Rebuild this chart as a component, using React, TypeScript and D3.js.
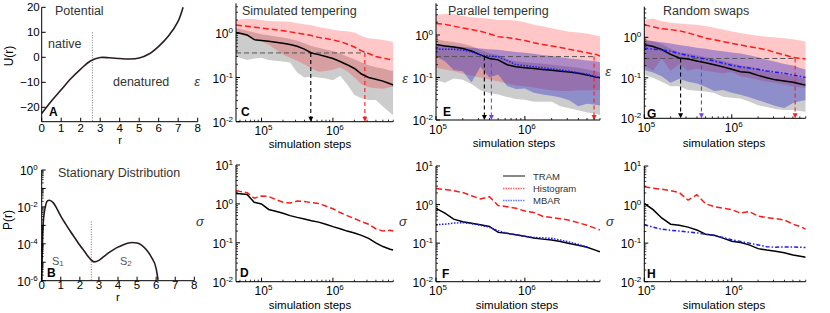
import React from "react";
import * as d3 from "d3";

const W = 830;
const H = 313;
const FONT = "Liberation Sans, Arial, Helvetica, sans-serif";

// panel A / B : potential and stationary distribution
const R_U = [0, 0.5, 1, 1.5, 2, 2.5, 3, 3.5, 4, 4.5, 5, 5.5, 6, 6.5, 7, 7.25];
const U_R = [-22.5, -17.5, -13, -8.5, -4.7, -1.5, -0.1, -0.2, -0.5, -0.7, -0.3, 1.3, 4.4, 8.5, 14.5, 20];
const R_P = [0, 0.05, 0.1, 0.2, 0.3, 0.4, 0.6, 0.8, 1, 1.25, 1.5, 1.75, 2, 2.25, 2.5, 2.75, 3, 3.25, 3.5, 3.75, 4, 4.25, 4.5, 4.75, 5, 5.25, 5.5, 5.75, 6, 6.1];
const P_R = [1e-6, 3.2e-4, 2.5e-3, 1.1e-2, 2.1e-2, 2.3e-2, 1.7e-2, 7.9e-3, 3.2e-3, 1.2e-3, 4.8e-4, 2e-4, 8.3e-5, 3.8e-5, 1.7e-5, 1.05e-5, 1.26e-5, 2e-5, 3.2e-5, 4.7e-5, 6.6e-5, 8.5e-5, 1.07e-4, 1.17e-4, 1.1e-4, 8.3e-5, 4.6e-5, 1.9e-5, 4.5e-6, 1.1e-6];
const BARRIER_R = 2.6;

// simulated tempering (C, D)
const STEPS_ST = [4.4e4, 5e4, 6.3e4, 7.9e4, 1e5, 1.26e5, 1.58e5, 2e5, 2.51e5, 3.16e5, 3.98e5, 5.01e5, 6.31e5, 7.94e5, 1e6, 1.26e6, 1.58e6, 2e6, 2.51e6, 3.16e6, 3.98e6, 5.01e6, 6.31e6, 7e6];
const ST_HIST = [1.55, 1.51, 1.45, 1.38, 1.32, 1.26, 1.2, 1.15, 1.08, 1.02, 0.95, 0.89, 0.81, 0.76, 0.71, 0.65, 0.575, 0.49, 0.4, 0.35, 0.3, 0.275, 0.257, 0.25];
const ST_TRAM = [1.05, 1.0, 0.92, 0.72, 0.69, 0.66, 0.63, 0.6, 0.56, 0.51, 0.44, 0.36, 0.33, 0.3, 0.27, 0.23, 0.195, 0.16, 0.12, 0.1, 0.091, 0.083, 0.072, 0.068];
const ST_HIST_HI = [1.95, 2.05, 2.15, 2.1, 2.0, 1.9, 1.87, 1.85, 1.82, 1.7, 1.6, 1.52, 1.4, 1.3, 1.2, 1.15, 1.12, 1.05, 0.87, 0.77, 0.74, 0.71, 0.66, 0.64];
const ST_HIST_LO = [1.0, 0.95, 0.85, 0.72, 0.66, 0.55, 0.43, 0.33, 0.28, 0.24, 0.2, 0.16, 0.135, 0.14, 0.15, 0.17, 0.14, 0.1, 0.07, 0.06, 0.057, 0.056, 0.06, 0.062];
const ST_TRAM_HI = [1.3, 1.25, 1.15, 1.05, 0.95, 0.9, 0.85, 0.8, 0.74, 0.68, 0.6, 0.52, 0.47, 0.43, 0.4, 0.35, 0.3, 0.26, 0.22, 0.19, 0.17, 0.16, 0.145, 0.14];
const ST_TRAM_LO = [0.3, 0.28, 0.25, 0.27, 0.28, 0.25, 0.24, 0.23, 0.22, 0.13, 0.1, 0.105, 0.1, 0.095, 0.087, 0.11, 0.07, 0.04, 0.034, 0.031, 0.031, 0.022, 0.016, 0.014];
const ST_SIG_TRAM = [1.86, 1.82, 1.74, 1.1, 1.0, 0.72, 0.65, 0.575, 0.5, 0.45, 0.41, 0.37, 0.34, 0.3, 0.26, 0.23, 0.2, 0.178, 0.155, 0.13, 0.1, 0.08, 0.068, 0.065];
const ST_SIG_HIST = [2.2, 2.1, 1.95, 1.4, 1.6, 1.55, 1.3, 1.1, 1.05, 1.18, 1.15, 1.08, 1.02, 0.88, 0.75, 0.6, 0.5, 0.42, 0.35, 0.3, 0.23, 0.2, 0.21, 0.2];
const ST_THR = 0.36;
const ST_CROSS = { tram: 4.9e5, hist: 2.8e6 };

// parallel tempering (E, F) and random swaps (G, H)
const STEPS = [1e5, 1.26e5, 1.58e5, 2e5, 2.51e5, 3.16e5, 3.98e5, 5.01e5, 6.31e5, 7.94e5, 1e6, 1.26e6, 1.58e6, 2e6, 2.51e6, 3.16e6, 3.98e6, 5.01e6, 6.31e6, 7e6];
const PT_HIST = [1.86, 1.78, 1.62, 1.46, 1.35, 1.22, 1.07, 0.91, 0.87, 0.81, 0.74, 0.66, 0.6, 0.55, 0.51, 0.46, 0.42, 0.38, 0.35, 0.32];
const PT_TRAM = [0.6, 0.55, 0.52, 0.48, 0.42, 0.34, 0.28, 0.26, 0.2, 0.18, 0.17, 0.162, 0.155, 0.148, 0.141, 0.135, 0.126, 0.115, 0.102, 0.098];
const PT_MBAR = [0.47, 0.46, 0.46, 0.44, 0.4, 0.34, 0.32, 0.31, 0.25, 0.2, 0.19, 0.18, 0.17, 0.16, 0.15, 0.14, 0.13, 0.12, 0.105, 0.1];
const PT_HIST_HI = [2.95, 3.1, 3.1, 2.8, 2.6, 2.5, 2.4, 2.25, 2.25, 2.2, 2.0, 1.75, 1.6, 1.45, 1.32, 1.2, 1.15, 1.08, 0.98, 0.92];
const PT_HIST_LO = [0.17, 0.155, 0.14, 0.125, 0.11, 0.1, 0.09, 0.08, 0.072, 0.066, 0.062, 0.058, 0.054, 0.05, 0.048, 0.048, 0.05, 0.05, 0.05, 0.05];
const PT_MBAR_HI = [0.6, 0.58, 0.55, 0.52, 0.5, 0.48, 0.46, 0.45, 0.42, 0.4, 0.38, 0.36, 0.34, 0.32, 0.3, 0.28, 0.27, 0.25, 0.24, 0.23];
const PT_MBAR_LO = [0.31, 0.24, 0.15, 0.14, 0.076, 0.18, 0.1, 0.117, 0.063, 0.054, 0.055, 0.044, 0.04, 0.037, 0.034, 0.029, 0.021, 0.024, 0.023, 0.022];
const PT_TRAM_HI = [0.8, 0.72, 0.68, 0.62, 0.55, 0.45, 0.37, 0.34, 0.27, 0.24, 0.23, 0.22, 0.21, 0.2, 0.19, 0.18, 0.17, 0.155, 0.14, 0.13];
const PT_TRAM_LO = [0.087, 0.075, 0.095, 0.088, 0.07, 0.05, 0.043, 0.04, 0.035, 0.031, 0.03, 0.027, 0.027, 0.027, 0.021, 0.019, 0.017, 0.015, 0.014, 0.013];
const PT_SIG_TRAM = [0.8, 0.6, 0.42, 0.36, 0.33, 0.3, 0.27, 0.19, 0.18, 0.165, 0.15, 0.135, 0.127, 0.12, 0.11, 0.098, 0.088, 0.078, 0.065, 0.06];
const PT_SIG_HIST = [2.6, 2.45, 2.3, 2.05, 1.7, 1.4, 1.6, 0.95, 0.88, 0.8, 0.68, 0.62, 0.5, 0.46, 0.43, 0.39, 0.34, 0.29, 0.24, 0.22];
const PT_SIG_MBAR = [0.3, 0.31, 0.33, 0.34, 0.32, 0.29, 0.26, 0.21, 0.18, 0.165, 0.15, 0.14, 0.137, 0.133, 0.12, 0.107, 0.093, 0.08];
const PT_THR = 0.31;
const PT_CROSS = { tram: 3.5e5, mbar: 4.2e5, hist: 6e6 };

const RS_HIST = [2.04, 1.82, 1.62, 1.55, 1.45, 1.29, 1.12, 0.95, 0.87, 0.78, 0.71, 0.65, 0.59, 0.54, 0.49, 0.42, 0.37, 0.32, 0.3, 0.29];
const RS_TRAM = [0.66, 0.59, 0.5, 0.38, 0.31, 0.29, 0.26, 0.234, 0.21, 0.186, 0.162, 0.141, 0.135, 0.115, 0.1, 0.089, 0.083, 0.078, 0.069, 0.066];
const RS_MBAR = [0.54, 0.51, 0.49, 0.45, 0.4, 0.355, 0.32, 0.29, 0.26, 0.23, 0.204, 0.186, 0.174, 0.162, 0.148, 0.138, 0.129, 0.117, 0.107, 0.102];
const RS_HIST_HI = [2.7, 2.9, 2.5, 2.3, 2.2, 2.1, 2.05, 1.9, 1.72, 1.55, 1.4, 1.28, 1.17, 1.1, 1.03, 0.99, 0.95, 0.9, 0.82, 0.78];
const RS_HIST_LO = [0.2, 0.15, 0.3, 0.15, 0.22, 0.15, 0.17, 0.15, 0.14, 0.13, 0.14, 0.11, 0.1, 0.09, 0.08, 0.075, 0.068, 0.062, 0.058, 0.055];
const RS_MBAR_HI = [0.85, 0.8, 0.75, 0.7, 0.65, 0.6, 0.55, 0.52, 0.48, 0.45, 0.42, 0.4, 0.36, 0.32, 0.28, 0.25, 0.22, 0.2, 0.17, 0.16];
const RS_MBAR_LO = [0.155, 0.135, 0.11, 0.075, 0.095, 0.08, 0.072, 0.06, 0.047, 0.05, 0.043, 0.038, 0.033, 0.028, 0.024, 0.02, 0.018, 0.024, 0.027, 0.028];
const RS_TRAM_HI = [0.9, 0.8, 0.68, 0.52, 0.42, 0.4, 0.36, 0.32, 0.29, 0.26, 0.23, 0.2, 0.19, 0.165, 0.145, 0.13, 0.12, 0.11, 0.1, 0.095];
const RS_TRAM_LO = [0.118, 0.1, 0.08, 0.062, 0.062, 0.05, 0.048, 0.046, 0.042, 0.034, 0.032, 0.031, 0.026, 0.021, 0.019, 0.017, 0.016, 0.016, 0.015, 0.0145];
const RS_SIG_TRAM = [1.07, 0.74, 0.45, 0.31, 0.29, 0.26, 0.22, 0.17, 0.16, 0.135, 0.112, 0.104, 0.09, 0.072, 0.066, 0.062, 0.056, 0.049, 0.045, 0.043];
const RS_SIG_HIST = [2.9, 2.65, 2.5, 2.3, 2.05, 1.3, 1.8, 1.05, 0.88, 0.8, 0.74, 0.6, 0.66, 0.5, 0.46, 0.43, 0.4, 0.31, 0.26, 0.23];
const RS_SIG_MBAR = [0.3, 0.26, 0.23, 0.215, 0.205, 0.195, 0.185, 0.17, 0.157, 0.14, 0.122, 0.11, 0.1, 0.09, 0.081, 0.078, 0.08, 0.079, 0.078, 0.077];
const RS_THR = 0.3;
const RS_CROSS = { tram: 2.6e5, mbar: 4.5e5, hist: 5.3e6 };

const LEGEND = ["TRAM", "Histogram", "MBAR"];

const RED = "#ff1a1a";
const BLUE = "#1a1aff";
const GREY_FILL = { fill: "#999999", opacity: 0.5 };
const RED_FILL = { fill: "#ff0000", opacity: 0.22 };
const BLUE_FILL = { fill: "#2424c8", opacity: 0.37 };

type Box = { x0: number; x1: number; y0: number; y1: number };

function logTicks(dom: number[]) {
  const major: number[] = [];
  const minor: number[] = [];
  const lo = Math.floor(Math.log10(dom[0]));
  const hi = Math.ceil(Math.log10(dom[1]));
  for (let e = lo; e <= hi; e++) {
    for (let k = 1; k < 10; k++) {
      const v = k * Math.pow(10, e);
      if (v < dom[0] * 0.999 || v > dom[1] * 1.001) continue;
      (k === 1 ? major : minor).push(v);
    }
  }
  return { major, minor };
}

function Pow({ x, y, e, anchor }: { x: number; y: number; e: number; anchor: string }) {
  return (
    <text x={x} y={y} textAnchor={anchor} fontSize={12}>
      10<tspan dy={-5} fontSize={8}>{e}</tspan>
    </text>
  );
}

type Band = { lo: number[]; hi: number[]; fill: string; opacity: number };
type Line = { ys: number[]; stroke: string; dash?: string; width?: number };

type PanelProps = {
  id: string;
  box: Box;
  xDom: number[];
  yDom: number[];
  steps: number[];
  bands?: Band[];
  lines: Line[];
  yLabels: number[];
  thr?: number;
  arrows?: { x: number; color: string }[];
  title?: string;
  titleX?: number;
  letter: string;
  letterPos: number[];
  ylab: string;
  ylabPos: number[];
  xlabX: number;
  xlabY: number;
};

function LogPanel(p: PanelProps) {
  const { box } = p;
  const x = d3.scaleLog().domain(p.xDom).range([box.x0, box.x1]);
  const y = d3.scaleLog().domain(p.yDom).range([box.y1, box.y0]);
  const xt = logTicks(p.xDom);
  const yt = logTicks(p.yDom);
  const area = (b: Band) =>
    d3
      .area<number>()
      .x((_, i) => x(p.steps[i]))
      .y0((_, i) => y(b.lo[i]))
      .y1((_, i) => y(b.hi[i]))(b.lo) || "";
  const line = (l: Line) =>
    d3
      .line<number>()
      .x((_, i) => x(p.steps[i]))
      .y((d) => y(d))(l.ys) || "";
  const clip = `clip-${p.id}`;
  const lastArrow = p.arrows ? p.arrows[p.arrows.length - 1].x : 0;
  return (
    <g>
      <defs>
        <clipPath id={clip}>
          <rect x={box.x0} y={box.y0} width={box.x1 - box.x0} height={box.y1 - box.y0} />
        </clipPath>
      </defs>
      <g clipPath={`url(#${clip})`}>
        {(p.bands || []).map((b, i) => (
          <path key={i} d={area(b)} fill={b.fill} fillOpacity={b.opacity} stroke="none" />
        ))}
        {p.thr !== undefined && (
          <line x1={box.x0} x2={x(lastArrow)} y1={y(p.thr)} y2={y(p.thr)} stroke="#555" strokeDasharray="5,3" strokeWidth={1} />
        )}
        {(p.arrows || []).map((a, i) => (
          <g key={i}>
            <line x1={x(a.x)} x2={x(a.x)} y1={y(p.thr!)} y2={box.y1 - 4} stroke={a.color} strokeDasharray="4,3" strokeWidth={1.1} />
            <path d={`M${x(a.x) - 2.5},${box.y1 - 5}L${x(a.x) + 2.5},${box.y1 - 5}L${x(a.x)},${box.y1}Z`} fill={a.color} />
          </g>
        ))}
        {p.lines.map((l, i) => (
          <path key={i} d={line(l)} fill="none" stroke={l.stroke} strokeWidth={l.width || 1.5} strokeDasharray={l.dash} />
        ))}
      </g>
      {/* axes */}
      <line x1={box.x0} x2={box.x0} y1={box.y0} y2={box.y1} stroke="#000" strokeWidth={1} />
      <line x1={box.x0} x2={box.x1} y1={box.y1} y2={box.y1} stroke="#000" strokeWidth={1} />
      {yt.major.map((v) => (
        <line key={"ym" + v} x1={box.x0} x2={box.x0 + 4} y1={y(v)} y2={y(v)} stroke="#000" />
      ))}
      {yt.minor.map((v) => (
        <line key={"yn" + v} x1={box.x0} x2={box.x0 + 2} y1={y(v)} y2={y(v)} stroke="#000" strokeWidth={0.8} />
      ))}
      {xt.major.map((v) => (
        <line key={"xm" + v} x1={x(v)} x2={x(v)} y1={box.y1} y2={box.y1 - 4} stroke="#000" />
      ))}
      {xt.minor.map((v) => (
        <line key={"xn" + v} x1={x(v)} x2={x(v)} y1={box.y1} y2={box.y1 - 2} stroke="#000" strokeWidth={0.8} />
      ))}
      {p.yLabels.map((v) => (
        <Pow key={"yl" + v} x={box.x0 - 3} y={y(v) + 5} e={Math.round(Math.log10(v))} anchor="end" />
      ))}
      {xt.major.map((v) => (
        <Pow key={"xl" + v} x={x(v) + 2} y={box.y1 + 13.5} e={Math.round(Math.log10(v))} anchor="middle" />
      ))}
      <text x={p.xlabX} y={p.xlabY} textAnchor="middle" fontSize={11.5}>
        simulation steps
      </text>
      {p.title && (
        <text x={p.titleX} y={15} fontSize={12.5} fill="#333">
          {p.title}
        </text>
      )}
      <text x={p.letterPos[0]} y={p.letterPos[1]} fontSize={12} fontWeight="bold">
        {p.letter}
      </text>
      <text x={p.ylabPos[0]} y={p.ylabPos[1] + 4} textAnchor="middle" fontSize={13} fontStyle="italic" fill="#333">
        {p.ylab}
      </text>
    </g>
  );
}

function PotentialPanel() {
  const box = { x0: 41.7, x1: 197.7, y0: 7.3, y1: 121.7 };
  const x = d3.scaleLinear().domain([0, 8]).range([box.x0, box.x1]);
  const y = d3.scaleLinear().domain([-25.75, 20]).range([box.y1, box.y0]);
  const path = d3
    .line<number>()
    .x((_, i) => x(R_U[i]))
    .y((d) => y(d))
    .curve(d3.curveCatmullRom)(U_R) || "";
  return (
    <g>
      <line x1={x(BARRIER_R)} x2={x(BARRIER_R)} y1={y(10)} y2={box.y1} stroke="#777" strokeDasharray="1,1.5" />
      <path d={path} fill="none" stroke="#2b1d1d" strokeWidth={1.6} />
      <line x1={box.x0} x2={box.x0} y1={box.y0} y2={box.y1} stroke="#000" />
      <line x1={box.x0} x2={box.x1} y1={box.y1} y2={box.y1} stroke="#000" />
      {d3.range(0, 9).map((v) => (
        <g key={v}>
          <line x1={x(v)} x2={x(v)} y1={box.y1} y2={box.y1 - 4} stroke="#000" />
          <text x={x(v)} y={box.y1 + 9.8} textAnchor="middle" fontSize={11.5}>{v}</text>
        </g>
      ))}
      {[-20, -10, 0, 10, 20].map((v) => (
        <g key={v}>
          <line x1={box.x0} x2={box.x0 + 4} y1={y(v)} y2={y(v)} stroke="#000" />
          <text x={box.x0 - 2} y={y(v) + 4} textAnchor="end" fontSize={11.5}>{v < 0 ? "\u2212" + -v : v}</text>
        </g>
      ))}
      <text x={120} y={144} textAnchor="middle" fontSize={11}>r</text>
      <text transform="translate(13,56) rotate(-90)" textAnchor="middle" fontSize={12}>U(r)</text>
      <text x={55} y={15} fontSize={12.5} fill="#333">Potential</text>
      <text x={48} y={48} fontSize={12.5} fill="#333">native</text>
      <text x={113} y={86} fontSize={12.5} fill="#333">denatured</text>
      <text x={49} y={116} fontSize={12} fontWeight="bold">A</text>
    </g>
  );
}

function DistributionPanel() {
  const box = { x0: 41.7, x1: 194.3, y0: 170, y1: 280.7 };
  const x = d3.scaleLinear().domain([0, 8]).range([box.x0, box.x1]);
  const y = d3.scaleLog().domain([1e-6, 1]).range([box.y1, box.y0]);
  const yt = logTicks([1e-6, 1]);
  const path = d3
    .line<number>()
    .x((_, i) => x(R_P[i]))
    .y((d) => y(d))
    .curve(d3.curveMonotoneX)(P_R) || "";
  return (
    <g>
      <line x1={x(BARRIER_R)} x2={x(BARRIER_R)} y1={y(1.6e-3)} y2={box.y1} stroke="#777" strokeDasharray="1,1.5" />
      <path d={path} fill="none" stroke="#2b1d1d" strokeWidth={1.6} />
      <line x1={box.x0} x2={box.x0} y1={box.y0} y2={box.y1} stroke="#000" />
      <line x1={box.x0} x2={box.x1} y1={box.y1} y2={box.y1} stroke="#000" />
      {yt.major.map((v) => (
        <line key={"m" + v} x1={box.x0} x2={box.x0 + 4} y1={y(v)} y2={y(v)} stroke="#000" />
      ))}
      {yt.minor.map((v) => (
        <line key={"n" + v} x1={box.x0} x2={box.x0 + 2} y1={y(v)} y2={y(v)} stroke="#000" strokeWidth={0.8} />
      ))}
      {[1, 1e-2, 1e-4, 1e-6].map((v) => (
        <Pow key={v} x={box.x0 - 4} y={y(v) + 5} e={Math.round(Math.log10(v))} anchor="end" />
      ))}
      {d3.range(0, 9).map((v) => (
        <g key={v}>
          <line x1={x(v)} x2={x(v)} y1={box.y1} y2={box.y1 - 4} stroke="#000" />
          <text x={x(v)} y={box.y1 + 8.5} textAnchor="middle" fontSize={11.5}>{v}</text>
        </g>
      ))}
      <text x={118} y={301} textAnchor="middle" fontSize={11.5}>r</text>
      <text transform="translate(12,220) rotate(-90)" textAnchor="middle" fontSize={12}>P(r)</text>
      <text x={58} y={177} fontSize={12.5} fill="#333">Stationary Distribution</text>
      <text x={52} y={265} fontSize={11} fill="#555">S<tspan fontSize={8} dy={1}>1</tspan></text>
      <text x={120} y={265} fontSize={11} fill="#555">S<tspan fontSize={8} dy={1}>2</tspan></text>
      <text x={47} y={277} fontSize={12} fontWeight="bold">B</text>
    </g>
  );
}

function Legend() {
  const rows = [
    { stroke: "#555", dash: undefined },
    { stroke: "#ff6060", dash: "1.5,1" },
    { stroke: "#6080ff", dash: "1.5,1" },
  ];
  const ys = [176, 188.5, 200.5];
  return (
    <g>
      {LEGEND.map((name, i) => (
        <g key={name}>
          <line x1={503} x2={525} y1={ys[i]} y2={ys[i]} stroke={rows[i].stroke} strokeDasharray={rows[i].dash} strokeWidth={1.4} />
          <text x={533} y={ys[i] + 3.5} fontSize={9.5} fill="#333">{name}</text>
        </g>
      ))}
    </g>
  );
}

export default function App() {
  const topDom = (t: number) => [0.01, Math.pow(10, t)];
  const redLine = (ys: number[]): Line => ({ ys, stroke: RED, dash: "6,3" });
  const blackLine = (ys: number[]): Line => ({ ys, stroke: "#000" });
  return (
    <svg width={W} height={H} style={{ position: "absolute", left: 0, top: 0, background: "#fff" }} fontFamily={FONT}>
      <rect width={W} height={H} fill="#fff" />
      <PotentialPanel />
      <DistributionPanel />
      <LogPanel
        id="C"
        box={{ x0: 236, x1: 393.3, y0: 3.3, y1: 121.7 }}
        xDom={[4.4e4, 7e6]}
        yDom={topDom(0.68)}
        steps={STEPS_ST}
        bands={[
          { lo: ST_TRAM_LO, hi: ST_TRAM_HI, ...GREY_FILL },
          { lo: ST_HIST_LO, hi: ST_HIST_HI, ...RED_FILL },
        ]}
        lines={[redLine(ST_HIST), blackLine(ST_TRAM)]}
        yLabels={[1, 0.1, 0.01]}
        thr={ST_THR}
        arrows={[
          { x: ST_CROSS.tram, color: "#000" },
          { x: ST_CROSS.hist, color: RED },
        ]}
        title="Simulated tempering"
        titleX={242}
        letter="C"
        letterPos={[241, 116]}
        ylab="ε"
        ylabPos={[197, 82]}
        xlabX={310}
        xlabY={147.5}
      />
      <LogPanel
        id="D"
        box={{ x0: 236, x1: 393.3, y0: 165, y1: 281.7 }}
        xDom={[4.4e4, 7e6]}
        yDom={[0.01, 10]}
        steps={STEPS_ST}
        lines={[redLine(ST_SIG_HIST), blackLine(ST_SIG_TRAM)]}
        yLabels={[10, 1, 0.1, 0.01]}
        letter="D"
        letterPos={[240, 277]}
        ylab="σ"
        ylabPos={[200, 222]}
        xlabX={310}
        xlabY={308.5}
      />
      <LogPanel
        id="E"
        box={{ x0: 436, x1: 600, y0: 3.3, y1: 120 }}
        xDom={[1e5, 7e6]}
        yDom={topDom(0.746)}
        steps={STEPS}
        bands={[
          { lo: PT_TRAM_LO, hi: PT_TRAM_HI, ...GREY_FILL },
          { lo: PT_HIST_LO, hi: PT_HIST_HI, ...RED_FILL },
          { lo: PT_MBAR_LO, hi: PT_MBAR_HI, ...BLUE_FILL },
        ]}
        lines={[redLine(PT_HIST), blackLine(PT_TRAM), { ys: PT_MBAR, stroke: BLUE, dash: "1.5,1.5" }]}
        yLabels={[1, 0.1, 0.01]}
        thr={PT_THR}
        arrows={[
          { x: PT_CROSS.tram, color: "#000" },
          { x: PT_CROSS.mbar, color: "#7a3cf0" },
          { x: PT_CROSS.hist, color: RED },
        ]}
        title="Parallel tempering"
        titleX={448}
        letter="E"
        letterPos={[443, 116]}
        ylab="ε"
        ylabPos={[405, 79]}
        xlabX={514}
        xlabY={147}
      />
      <LogPanel
        id="F"
        box={{ x0: 436, x1: 600, y0: 166, y1: 281.7 }}
        xDom={[1e5, 7e6]}
        yDom={[0.01, 10]}
        steps={STEPS}
        lines={[redLine(PT_SIG_HIST), blackLine(PT_SIG_TRAM), { ys: PT_SIG_MBAR, stroke: BLUE, dash: "1.5,1.5" }]}
        yLabels={[10, 1, 0.1, 0.01]}
        letter="F"
        letterPos={[442, 278]}
        ylab="σ"
        ylabPos={[403, 222]}
        xlabX={517}
        xlabY={308.5}
      />
      <Legend />
      <LogPanel
        id="G"
        box={{ x0: 644.3, x1: 805.7, y0: 6.7, y1: 118.3 }}
        xDom={[1e5, 7e6]}
        yDom={topDom(0.756)}
        steps={STEPS}
        bands={[
          { lo: RS_TRAM_LO, hi: RS_TRAM_HI, ...GREY_FILL },
          { lo: RS_HIST_LO, hi: RS_HIST_HI, ...RED_FILL },
          { lo: RS_MBAR_LO, hi: RS_MBAR_HI, ...BLUE_FILL },
        ]}
        lines={[redLine(RS_HIST), blackLine(RS_TRAM), { ys: RS_MBAR, stroke: BLUE, dash: "4,2,1.5,2" }]}
        yLabels={[1, 0.1, 0.01]}
        thr={RS_THR}
        arrows={[
          { x: RS_CROSS.tram, color: "#000" },
          { x: RS_CROSS.mbar, color: "#7a3cf0" },
          { x: RS_CROSS.hist, color: RED },
        ]}
        title="Random swaps"
        titleX={663}
        letter="G"
        letterPos={[647, 118]}
        ylab="ε"
        ylabPos={[608, 72]}
        xlabX={724}
        xlabY={147}
      />
      <LogPanel
        id="H"
        box={{ x0: 644.3, x1: 805.7, y0: 166, y1: 281.7 }}
        xDom={[1e5, 7e6]}
        yDom={[0.01, 10]}
        steps={STEPS}
        lines={[redLine(RS_SIG_HIST), blackLine(RS_SIG_TRAM), { ys: RS_SIG_MBAR, stroke: BLUE, dash: "4,2,1.5,2" }]}
        yLabels={[10, 1, 0.1, 0.01]}
        letter="H"
        letterPos={[647, 278]}
        ylab="σ"
        ylabPos={[610, 222]}
        xlabX={724}
        xlabY={308.5}
      />
    </svg>
  );
}
